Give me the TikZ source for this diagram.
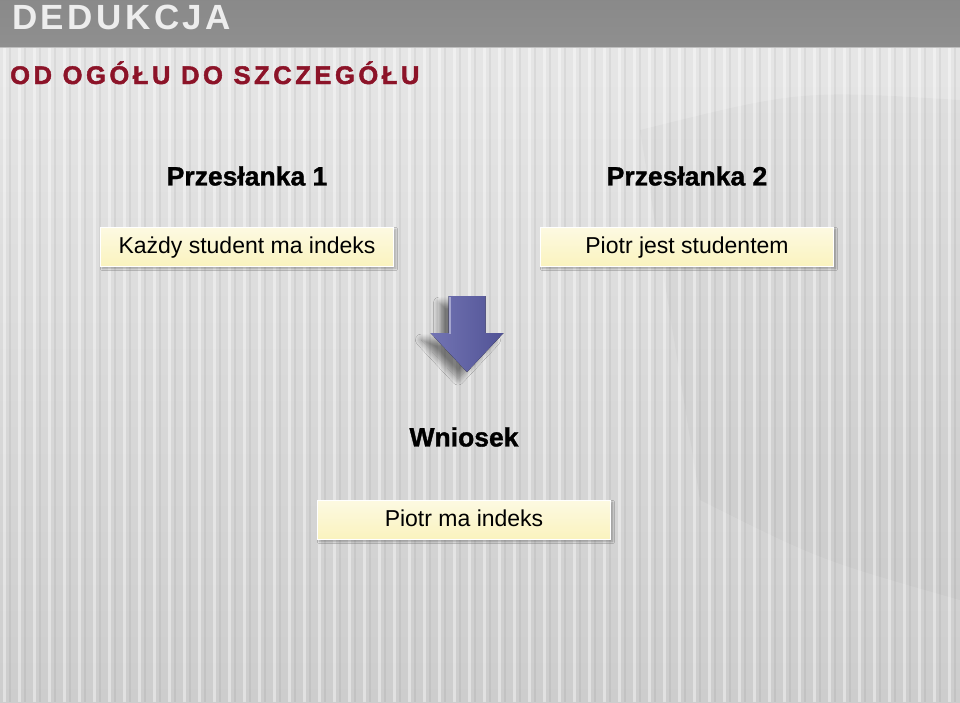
\documentclass[tikz,border=0pt]{standalone}
\usepackage{fontspec}
\setmainfont{Liberation Sans}
\newfontfamily\titlefont[LetterSpace=10]{Liberation Sans}
\newfontfamily\subfont[LetterSpace=14,FakeBold=1.8]{Liberation Sans}
\newfontfamily\headfont[FakeBold=1.2]{Liberation Sans}
\usepackage{tikz}
\usetikzlibrary{positioning,shapes,arrows,shadows,shadows.blur}

\definecolor{barGray}{HTML}{8F8F8F}
\definecolor{subRed}{HTML}{8C1328}
\definecolor{boxCream}{HTML}{FAF3BE}
\definecolor{arrowBlue}{HTML}{5A5CA6}
\definecolor{bgLight}{HTML}{E6E6E6}
\definecolor{bgDark}{HTML}{CDCDCD}

\tikzset{
  premise/.style={font=\fontsize{26.5}{30}\headfont\bfseries},
  fact/.style={draw=white, line width=1.2pt, top color=white!55!boxCream,
    bottom color=boxCream, minimum width=293pt, minimum height=39pt,
    inner sep=0pt, text height=16pt, text depth=4pt,
    blur shadow={shadow blur steps=6, shadow xshift=2pt, shadow yshift=-2pt, shadow opacity=30},
    font=\fontsize{23}{27}\selectfont},
  stripe/.style={white, opacity=0.4, line width=3pt}
}

\begin{document}
\begin{tikzpicture}[x=1pt,y=1pt]
  \useasboundingbox (0,0) rectangle (960,-702);
  % background
  \shade[top color=bgLight, bottom color=bgDark] (0,-47) rectangle (960,-702);
  \fill[black, opacity=0.025] (640,-130) .. controls (800,-90) .. (960,-100) -- (960,-600)
    .. controls (820,-560) .. (700,-500) -- cycle;
  \foreach \x in {4,19,...,960}
    \draw[stripe] (\x,-47) -- (\x,-702);
  \foreach \x in {10,25,...,960}
    \draw[black, opacity=0.05, line width=2pt] (\x,-47) -- (\x,-702);
  % title bar
  \shade[top color=barGray!105, bottom color=barGray] (0,0) rectangle (960,-47);
  \draw[white!75!black, line width=1pt] (0,-47.5) -- (960,-47.5);
  \node[anchor=base west, inner sep=0pt, text=white!93!black,
    font=\fontsize{35}{40}\titlefont\bfseries] (title) at (12,-29) {DEDUKCJA};
  \node[anchor=base west, inner sep=0pt, text=subRed,
    font=\fontsize{25.5}{28}\subfont\bfseries] (subtitle) at (10,-84) {OD OGÓŁU DO SZCZEGÓŁU};

  % premises
  \node[premise] (prem1) at (247,-176) {Przesłanka 1};
  \node[premise, right of=prem1, node distance=440pt] (prem2) {Przesłanka 2};
  \node[fact, below of=prem1, node distance=71pt] (fact1) {Każdy student ma indeks};
  \node[fact, below of=prem2, node distance=71pt] (fact2) {Piotr jest studentem};

  % inference arrow
  \coordinate (arrowTop) at (467,-296);
  \fill[left color=arrowBlue!85!white, right color=arrowBlue!90!black,
    blur shadow={shadow blur steps=10, shadow xshift=-9pt, shadow yshift=-7pt, shadow opacity=45, shadow blur radius=6pt}]
    (arrowTop) ++(-18.5,0) -- ++(37,0) -- ++(0,-37) -- ++(18,0)
    -- ++(-36.5,-39) -- ++(-36.5,39) -- ++(18,0) -- cycle;
  \draw[arrowBlue!55!white, line width=1.5pt] (arrowTop) ++(-17,-1) -- ++(0,-37);

  % conclusion
  \node[premise] (concl) at (464,-437) {Wniosek};
  \node[fact, below of=concl, node distance=83pt] (result) {Piotr ma indeks};
\end{tikzpicture}
\end{document}
